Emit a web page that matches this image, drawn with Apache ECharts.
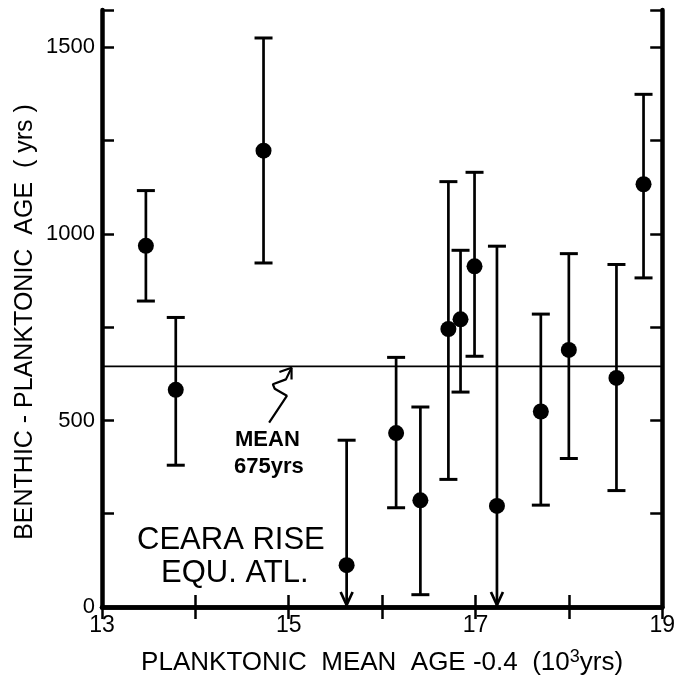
<!DOCTYPE html>
<html>
<head>
<meta charset="utf-8">
<script src="https://cdn.jsdelivr.net/npm/echarts@6/dist/echarts.min.js"></script>
<style>
  html, body { margin: 0; padding: 0; background: #fff; }
  #chart { width: 678px; height: 681px; }
</style>
</head>
<body>
<div id="chart"></div>
<script>
// planktonic mean age - 0.4 (10^3 yrs)
const ages = [13.47, 13.79, 14.73, 15.62, 16.15, 16.41, 16.71, 16.84, 16.99, 17.23, 17.70, 18.00, 18.51, 18.80];
// benthic - planktonic age difference (yrs)
const diffs = [968, 582, 1223, 112, 466, 286, 745, 771, 913, 271, 524, 689, 614, 1133];
const upper = [1116, 776, 1525, 447, 669, 536, 1140, 956, 1165, 967, 785, 947, 918, 1374];
const lower = [820, 380, 922, 0, 266, 33, 342, 576, 672, 0, 273, 398, 312, 882];
// 1 = lower limit open (arrow down to 0)
const openLow = [0, 0, 0, 1, 0, 0, 0, 0, 0, 1, 0, 0, 0, 0];

const meanDrawn = 645;
const xTickLabels = [13, 15, 17, 19];
const yTickLabels = [0, 500, 1000, 1500];

// squiggly pointer from the "MEAN" note up to the line
const pointerPath = [[14.79, 494], [14.98, 566], [14.85, 585], [14.83, 597], [14.97, 610], [15.03, 641]];
const pointerHead = [[14.90, 630], [15.03, 641], [15.03, 610]];

const FONT = "Liberation Sans";
const myChart = echarts.init(document.getElementById("chart"));

const axisLine = { show: true, lineStyle: { color: "#000", width: 4.5 } };
const tick = { show: true, inside: true, length: 12, lineStyle: { color: "#000", width: 2.5 } };

const option = {
  backgroundColor: "#fff",
  animation: false,
  grid: { left: 102, right: 8, top: 10, bottom: 71 },
  xAxis: [
    {
      type: "value",
      min: 13,
      max: 19,
      interval: 1,
      axisLine: axisLine,
      axisTick: tick,
      splitLine: { show: false },
      axisLabel: {
        color: "#000",
        fontFamily: FONT,
        fontSize: 23,
        margin: 7,
        formatter: (v) => (xTickLabels.includes(v) ? String(v) : ""),
      },
      name: "{a|PLANKTONIC  MEAN  AGE -0.4  (10}{s|3}{a|yrs)}",
      nameLocation: "middle",
      nameGap: 41,
      nameTextStyle: {
        rich: {
          a: { fontFamily: FONT, fontSize: 26, color: "#000", lineHeight: 30 },
          s: { fontFamily: FONT, fontSize: 18, color: "#000", verticalAlign: "top", lineHeight: 30, padding: [0, 0, 10, 0] },
        },
      },
    },
    {
      type: "value",
      position: "top",
      min: 13,
      max: 19,
      interval: 1,
      axisLine: axisLine,
      axisTick: tick,
      axisLabel: { show: false },
      splitLine: { show: false },
    },
  ],
  yAxis: [
    {
      type: "value",
      min: 0,
      max: 1600,
      interval: 250,
      axisLine: axisLine,
      axisTick: tick,
      splitLine: { show: false },
      axisLabel: {
        color: "#000",
        fontFamily: FONT,
        fontSize: 22,
        margin: 7,
        formatter: (v) => (yTickLabels.includes(v) ? String(v) : ""),
      },
    },
    {
      type: "value",
      position: "right",
      min: 0,
      max: 1600,
      interval: 250,
      axisLine: axisLine,
      axisTick: tick,
      axisLabel: { show: false },
      splitLine: { show: false },
    },
  ],
  graphic: [
    {
      type: "text",
      x: 25,
      y: 322,
      rotation: Math.PI / 2,
      style: {
        text: "BENTHIC - PLANKTONIC  AGE  ( yrs )",
        font: "25px " + FONT,
        fill: "#000",
        align: "center",
        verticalAlign: "middle",
      },
    },
    { type: "text", left: 235, top: 429, style: { text: "MEAN", font: "bold 22px " + FONT, fill: "#000" } },
    { type: "text", left: 234, top: 456, style: { text: "675yrs", font: "bold 22px " + FONT, fill: "#000" } },
    { type: "text", left: 137, top: 525, style: { text: "CEARA RISE", font: "31px " + FONT, fill: "#000" } },
    { type: "text", left: 161, top: 558, style: { text: "EQU. ATL.", font: "31px " + FONT, fill: "#000" } },
  ],
  series: [
    {
      name: "mean",
      type: "line",
      data: [[13, meanDrawn], [19, meanDrawn]],
      symbol: "none",
      lineStyle: { color: "#000", width: 1.7 },
      z: 1,
    },
    {
      name: "pointer",
      type: "line",
      data: pointerPath,
      symbol: "none",
      lineStyle: { color: "#000", width: 2.2 },
      z: 1,
    },
    {
      name: "pointerHead",
      type: "line",
      data: pointerHead,
      symbol: "none",
      lineStyle: { color: "#000", width: 2.2 },
      z: 1,
    },
    {
      name: "errors",
      type: "custom",
      data: ages.map((x, i) => [x, lower[i], upper[i], openLow[i]]),
      renderItem: function (params, api) {
        const x = api.value(0);
        const pLo = api.coord([x, api.value(1)]);
        const pHi = api.coord([x, api.value(2)]);
        const px = pHi[0];
        const st = { stroke: "#000", lineWidth: 2.7, fill: null };
        const children = [
          { type: "line", shape: { x1: px, y1: pLo[1], x2: px, y2: pHi[1] }, style: st },
          { type: "line", shape: { x1: px - 9, y1: pHi[1], x2: px + 9, y2: pHi[1] }, style: { stroke: "#000", lineWidth: 3 } },
        ];
        if (api.value(3)) {
          children.push({
            type: "polyline",
            shape: { points: [[px - 6, pLo[1] - 15], [px, pLo[1] - 2], [px + 6, pLo[1] - 15]] },
            style: st,
          });
        } else {
          children.push({ type: "line", shape: { x1: px - 9, y1: pLo[1], x2: px + 9, y2: pLo[1] }, style: { stroke: "#000", lineWidth: 3 } });
        }
        return { type: "group", children: children };
      },
      z: 2,
    },
    {
      name: "age difference",
      type: "scatter",
      data: ages.map((x, i) => [x, diffs[i]]),
      symbol: "circle",
      symbolSize: 16,
      itemStyle: { color: "#000", opacity: 1 },
      z: 3,
    },
  ],
};
myChart.setOption(option);
</script>
</body>
</html>
